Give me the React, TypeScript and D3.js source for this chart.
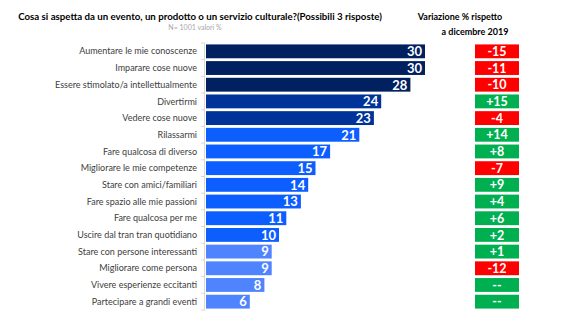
import React from "react";
import * as d3 from "d3";

const categories = [
  "Aumentare le mie conoscenze",
  "Imparare cose nuove",
  "Essere stimolato/a intellettualmente",
  "Divertirmi",
  "Vedere cose nuove",
  "Rilassarmi",
  "Fare qualcosa di diverso",
  "Migliorare le mie competenze",
  "Stare con amici/familiari",
  "Fare spazio alle mie passioni",
  "Fare qualcosa per me",
  "Uscire dal tran tran quotidiano",
  "Stare con persone interessanti",
  "Migliorare come persona",
  "Vivere esperienze eccitanti",
  "Partecipare a grandi eventi",
];
const values = [30, 30, 28, 24, 23, 21, 17, 15, 14, 13, 11, 10, 9, 9, 8, 6];
const changes = ["-15", "-11", "-10", "+15", "-4", "+14", "+8", "-7", "+9", "+4", "+6", "+2", "+1", "-12", "--", "--"];
const groups = [0, 0, 0, 1, 1, 2, 2, 2, 2, 2, 2, 2, 3, 3, 3, 3];

const groupColors = ["#002060", "#003399", "#0D5EFF", "#5084FF"];
const FONT = "Lato, 'Open Sans', sans-serif";

export default function App() {
  const W = 564, H = 324;
  const x0 = 206;
  const x = d3.scaleLinear().domain([0, 30]).range([x0, 425]);
  const y = d3.scaleBand<number>().domain(d3.range(categories.length)).range([43, 310]).paddingInner(0.17).paddingOuter(0.085);
  const step = y.step();
  const boundaries = d3.range(categories.length + 1).map((i) => 43 + i * step);
  const boxX = 475, boxW = 44;

  return (
    <svg width={W} height={H} style={{ position: "absolute", left: 0, top: 0 }} fontFamily={FONT}>
      <rect width={W} height={H} fill="#fff" />
      <text x={200} y={20} textAnchor="middle" fontSize={9.7} fontWeight="bold" fill="#000">
        Cosa si aspetta da un evento, un prodotto o un servizio culturale?(Possibili 3 risposte)
      </text>
      <text x={195} y={30} textAnchor="middle" fontSize={7} fill="#A6A6A6">N= 1001 valori %</text>
      <text x={460} y={20} textAnchor="middle" fontSize={9} fontWeight="bold" fill="#000">Variazione % rispetto</text>
      <text x={475} y={35} textAnchor="middle" fontSize={9} fontWeight="bold" fill="#000">a dicembre 2019</text>

      <line x1={204.5} x2={204.5} y1={43} y2={310} stroke="#D9D9D9" strokeWidth={1} />
      {boundaries.map((b, i) => (
        <line key={i} x1={201} x2={205} y1={b} y2={b} stroke="#D9D9D9" strokeWidth={1} />
      ))}

      {categories.map((c, i) => {
        const yy = y(i)!;
        const bh = y.bandwidth();
        const cy = yy + bh / 2;
        const neg = changes[i].startsWith("-") && changes[i] !== "--";
        return (
          <g key={c}>
            <text x={197} y={cy} dy="0.35em" textAnchor="end" fontSize={9} fill="#404040">{c}</text>
            <rect x={x0} y={yy} width={x(values[i]) - x0} height={bh} fill={groupColors[groups[i]]} />
            <text x={x(values[i]) - 3} y={cy} dy="0.37em" textAnchor="end" fontSize={13} fontWeight="bold" fill="#fff">{values[i]}</text>
            <rect x={boxX} y={yy} width={boxW} height={bh} fill={neg ? "#FF0000" : "#00B050"} />
            <text x={boxX + boxW / 2} y={cy} dy="0.37em" textAnchor="middle" fontSize={12.5} fontWeight="bold" fill="#fff">{changes[i]}</text>
          </g>
        );
      })}
    </svg>
  );
}
